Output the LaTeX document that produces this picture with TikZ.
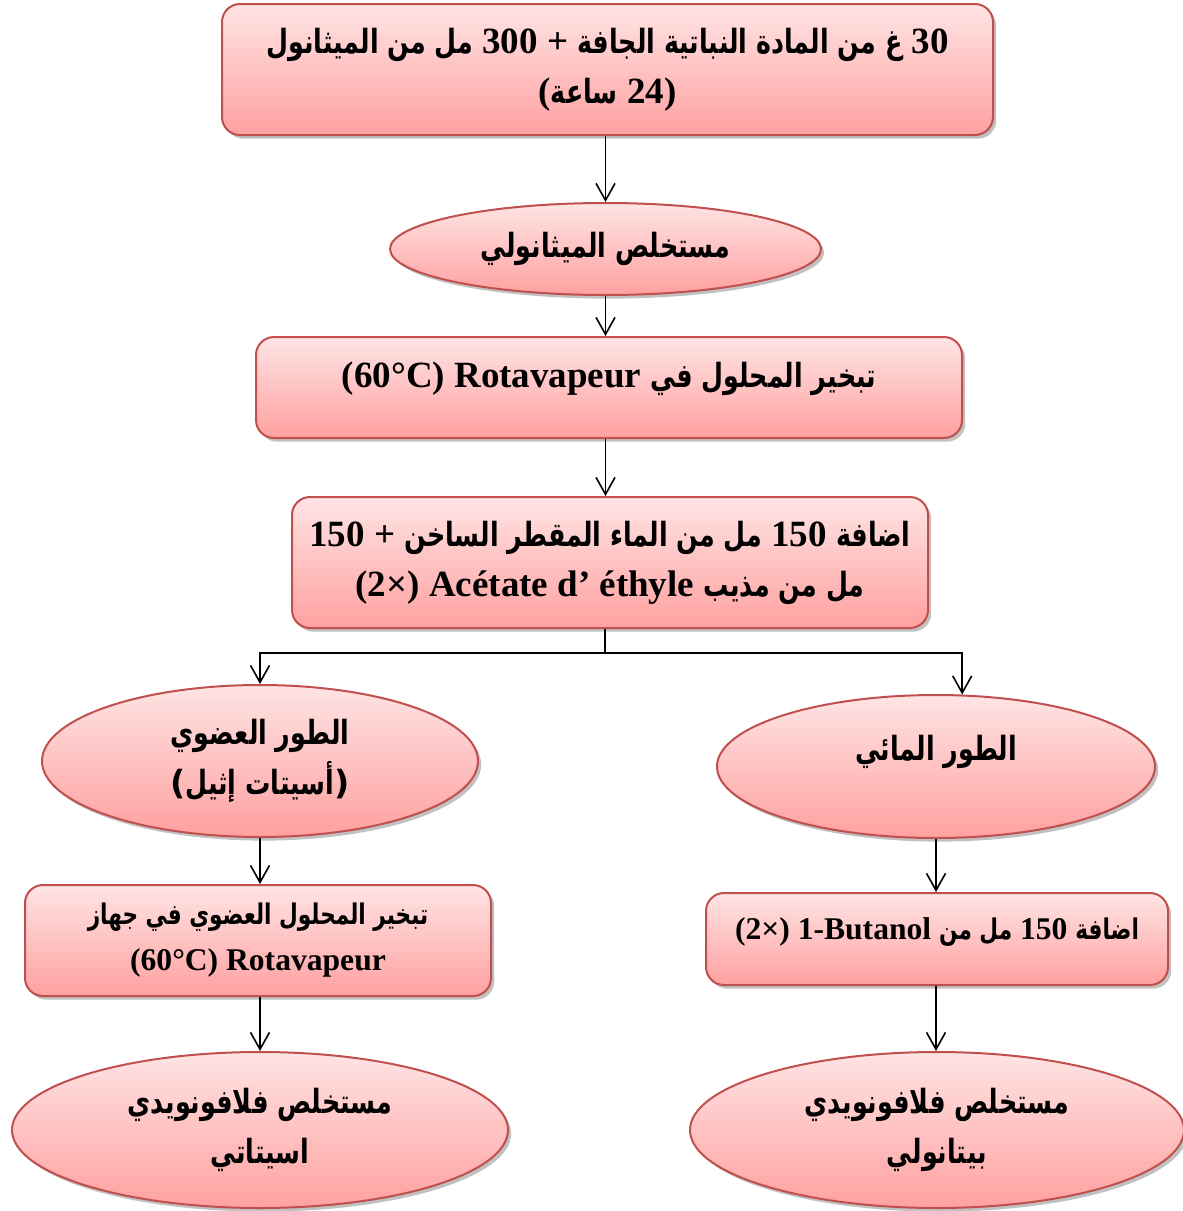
\documentclass[tikz,border=0pt]{standalone}
\usepackage{fontspec}
\setmainfont{Liberation Serif}
\newfontfamily\arabicfont[Script=Arabic,Scale=0.9]{DejaVu Sans}
\newfontfamily\plainsans[Scale=0.9]{DejaVu Sans}
\TeXXeTstate=1
\usetikzlibrary{shapes.geometric,arrows.meta,shadows}

% one drawing unit = one pixel of the final image
\newlength\pxu
\setlength\pxu{0.5pt}

% Arabic run, set right to left in its own box and narrowed a little
\newcommand\artxt[1]{\scalebox{0.76}[1]{\arabicfont\beginR#1\endR}}

\definecolor{pinktop}{RGB}{255,228,228}
\definecolor{pinkbot}{RGB}{255,160,160}
\definecolor{rimred}{RGB}{192,80,77}

\tikzset{
  stage/.style={draw=rimred, line width=1pt, top color=pinktop, bottom color=pinkbot,
    drop shadow={shadow xshift=1.6pt, shadow yshift=-1.8pt, opacity=.35, fill=black!70},
    text=black, align=center, inner sep=0pt, font=\bfseries},
  stepbox/.style={stage, rectangle, rounded corners=9pt},
  result/.style={stage, ellipse},
  big/.style={font=\bfseries\fontsize{18.5}{25}\selectfont},
  mid/.style={font=\bfseries\fontsize{15.8}{23}\selectfont},
  flow/.style={line width=0.8pt, -{Straight Barb[length=8.5pt,width=9.5pt,line width=0.8pt]}},
  stem/.style={line width=0.8pt}
}

\begin{document}
\begin{tikzpicture}[x=0.5pt, y=-0.5pt]
\useasboundingbox (0,0) rectangle (1183,1211);

% main column (mixed lines are written in visual order, left to right)
\node[stepbox, big, minimum width=771\pxu, minimum height=131\pxu] (soak) at (607.5,69.5)
  {\hbox{\artxt{مل من الميثانول} 300 + \artxt{غ من المادة النباتية الجافة} 30}\\
   \hbox{(\artxt{ساعة} 24)}};

\node[result, big, minimum width=431\pxu, minimum height=92\pxu] (meth) at (605.5,249)
  {\artxt{مستخلص الميثانولي}};

\node[stepbox, big, minimum width=706\pxu, minimum height=101\pxu,
      text height=10pt, text depth=10pt] (evap) at (609,387.5)
  {\hbox{(60°C) Rotavapeur \artxt{تبخير المحلول في}}};

\node[stepbox, big, minimum width=636\pxu, minimum height=131\pxu] (part) at (610,562.5)
  {\hbox{150 + \artxt{مل من الماء المقطر الساخن} 150 \artxt{اضافة}}\\
   \hbox{(2×) Acétate d’ éthyle \artxt{مل من مذيب}}};

% organic branch
\node[result, big, minimum width=436\pxu, minimum height=152\pxu] (org) at (260,761)
  {\artxt{الطور العضوي}\\\hbox{{\plainsans(}\artxt{أسيتات إثيل}{\plainsans)}}};

\node[stepbox, mid, minimum width=466\pxu, minimum height=111\pxu] (orgevap) at (258,940.5)
  {\artxt{تبخير المحلول العضوي في جهاز}\\\hbox{(60°C) Rotavapeur}};

\node[result, big, minimum width=496\pxu, minimum height=156\pxu] (acet) at (260,1130)
  {\artxt{مستخلص فلافونويدي}\\\artxt{اسيتاتي}};

% aqueous branch
\node[result, big, minimum width=438\pxu, minimum height=143\pxu,
      text height=8pt, text depth=14.5pt] (aq) at (936,766.5)
  {\artxt{الطور المائي}};

\node[stepbox, mid, minimum width=462\pxu, minimum height=92\pxu,
      text height=9pt, text depth=9pt] (buta) at (937,939)
  {\hbox{(2×) 1-Butanol \artxt{مل من} 150 \artxt{اضافة}}};

\node[result, big, minimum width=494\pxu, minimum height=156\pxu] (butx) at (937,1130)
  {\artxt{مستخلص فلافونويدي}\\\artxt{بيتانولي}};

% connectors
\draw[flow] (meth.north |- soak.south) -- (meth.north);
\draw[flow] (meth.south) -- (meth.south |- evap.north);
\draw[flow] (meth.south |- evap.south) -- (meth.south |- part.north);

\coordinate (split) at (605,653);
\draw[stem] (part.south -| split) -- (split);
\draw[flow] (split) -| (org.north);
\draw[flow] (split) -| (aq.70);

\draw[flow] (org.south) -- (org.south |- orgevap.north);
\draw[flow] (org.south |- orgevap.south) -- (acet.north);
\draw[flow] (aq.south) -- (aq.south |- buta.north);
\draw[flow] (aq.south |- buta.south) -- (aq.south |- butx.north);
\end{tikzpicture}
\end{document}
